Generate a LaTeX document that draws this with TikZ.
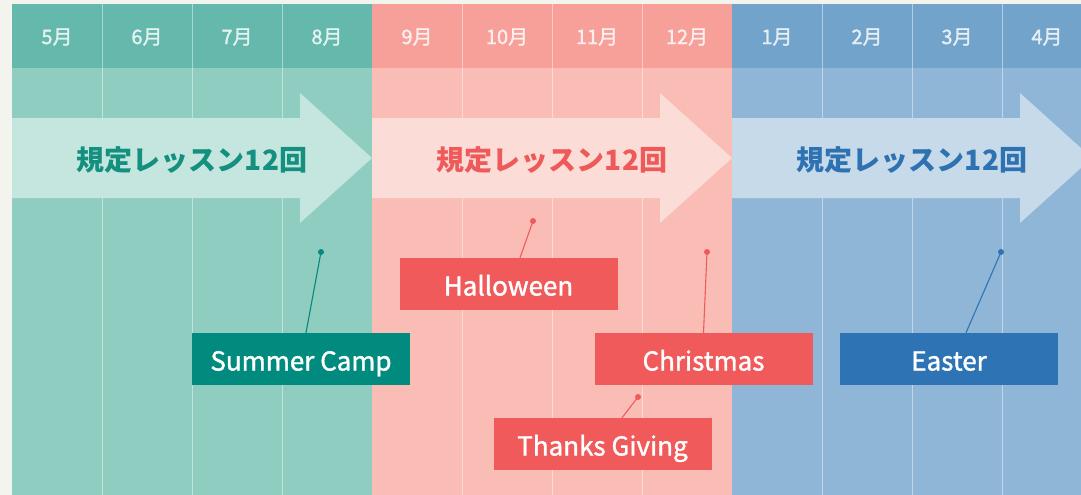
\documentclass[tikz,border=0pt]{standalone}
\usepackage{fontspec}
\setmainfont{Noto Sans CJK JP}
\newfontfamily\tagfont{Noto Sans CJK JP}[FakeBold=1.4]
\usepackage{tikz}
\usetikzlibrary{calc,positioning}

\definecolor{paper}{HTML}{F4F4EF}
\definecolor{grnHead}{HTML}{64B9AC}
\definecolor{grnBody}{HTML}{8FCDC1}
\definecolor{grnArrow}{HTML}{C5E6DE}
\definecolor{grnText}{HTML}{13907F}
\definecolor{grnTag}{HTML}{018B7E}
\definecolor{pnkHead}{HTML}{F7A09A}
\definecolor{pnkBody}{HTML}{F9BDB6}
\definecolor{pnkArrow}{HTML}{FBDCD7}
\definecolor{pnkText}{HTML}{EE5A5A}
\definecolor{pnkTag}{HTML}{F05A5B}
\definecolor{bluHead}{HTML}{72A4CB}
\definecolor{bluBody}{HTML}{8FB6D6}
\definecolor{bluArrow}{HTML}{C7DAEA}
\definecolor{bluText}{HTML}{2F72B2}
\definecolor{bluTag}{HTML}{2E74B5}

\tikzset{
  month/.style={text=white, text opacity=.8, font=\tagfont\fontsize{20}{20}\selectfont},
  lesson/.style={font=\fontsize{28}{28}\selectfont\bfseries},
  tag/.style={fill=#1, text=white, minimum width=218pt, minimum height=52pt,
    inner sep=0pt, text height=25pt, text depth=2pt,
    font=\tagfont\fontsize{26}{26}\selectfont},
  pin/.style={circle, fill=#1, inner sep=0pt, minimum size=6pt},
  stem/.style={#1, line width=1.1pt},
  colsep/.style={white, opacity=.45, line width=.9pt}
}

\begin{document}
\begin{tikzpicture}[x=1pt, y=-1pt]
    \clip (0,0) rectangle (1081,495);
    \fill[paper] (0,0) rectangle (1081,495);

    % three terms
    \foreach \left/\col [count=\t] in {12/grn, 372/pnk, 732/blu} {
        \fill[\col Body] (\left,68) rectangle ++(360,427);
        \fill[\col Head] (\left,4) rectangle ++(360,64);
        \foreach \i in {1,2,3}
            \draw[colsep] (\left+90*\i,4) -- (\left+90*\i,495);
        \fill[\col Arrow] (\left,118) -- (\left+288,118) -- (\left+288,93)
            -- (\left+360,158) -- (\left+288,223) -- (\left+288,198)
            -- (\left,198) -- cycle;
        \node[lesson, text=\col Text] (lesson\t) at (\left+180,160) {規定レッスン12回};
    }

    % months
    \foreach \m [count=\k from 0] in {5,6,7,8,9,10,11,12,1,2,3,4}
        \node[month] (m\m) at (57+90*\k,37) {\m 月};

    % events
    \node[tag=grnTag] (summer) at (301,359) {Summer Camp};
    \node[tag=pnkTag] (halloween) at (508.5,284) {Halloween};
    \node[tag=pnkTag] (christmas) at (703.5,359) {Christmas};
    \node[tag=pnkTag] (thanks) at (602.5,444) {Thanks Giving};
    \node[tag=bluTag] (easter) at (949,359) {Easter};

    \node[pin=grnTag] (summerpin) at (321,252) {};
    \node[pin=pnkTag] (halloweenpin) at (533,221) {};
    \node[pin=pnkTag] (christmaspin) at (707,252) {};
    \node[pin=pnkTag] (thankspin) at (638,397) {};
    \node[pin=bluTag] (easterpin) at (1001,252) {};

    \draw[stem=grnTag] (summerpin.center) -- ([xshift=5pt]summer.north);
    \draw[stem=pnkTag] (halloweenpin.center) -- ([xshift=11.5pt]halloween.north);
    \draw[stem=pnkTag] (christmaspin.center) -- (christmas.north);
    \draw[stem=pnkTag] (thankspin.center) -- ([xshift=19.5pt]thanks.north);
    \draw[stem=bluTag] (easterpin.center) -- ([xshift=17pt]easter.north);
\end{tikzpicture}
\end{document}
